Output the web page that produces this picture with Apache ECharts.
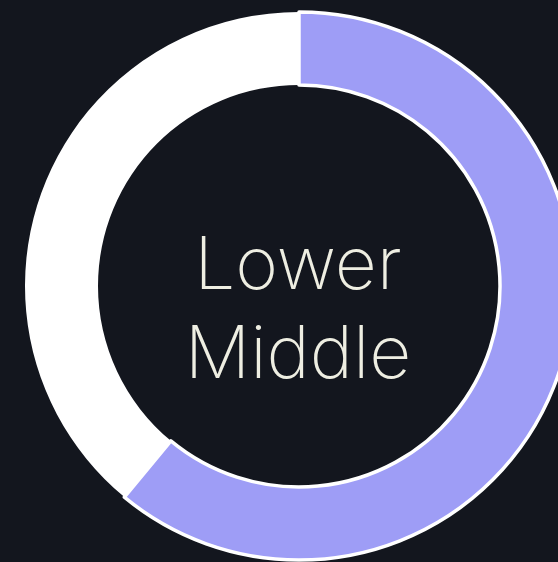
<!DOCTYPE html>
<html>
<head>
<meta charset="utf-8">
<script src="https://cdn.jsdelivr.net/npm/echarts@6/dist/echarts.min.js"></script>
<style>
html,body{margin:0;padding:0;background:#13161e;}
#chart{width:558px;height:562px;}
</style>
</head>
<body>
<div id="chart"></div>
<script>
const categories = ["Lower Middle", "Rest"];
const values = [61, 39];
const centerLabel = ["Lower", "Middle"];

const chart = echarts.init(document.getElementById('chart'));
chart.setOption({
  backgroundColor: '#13161e',
  animation: false,
  series: [{
    type: 'pie',
    center: [299, 286],
    radius: [201, 274],
    startAngle: 90,
    clockwise: true,
    label: { show: false },
    labelLine: { show: false },
    silent: true,
    data: categories.map((c, i) => ({
      name: c,
      value: values[i],
      itemStyle: i === 0
        ? { color: '#9e9df6', borderColor: '#ffffff', borderWidth: 3.5 }
        : { color: '#ffffff', borderColor: '#ffffff', borderWidth: 0 }
    }))
  }],
  graphic: [{
    type: 'text',
    x: 298,
    y: 312,
    style: {
      text: centerLabel.join('\n'),
      fill: '#eeeee2',
      font: '200 73px Inter',
      lineHeight: 89,
      align: 'center',
      verticalAlign: 'middle'
    }
  }]
});
</script>
</body>
</html>
